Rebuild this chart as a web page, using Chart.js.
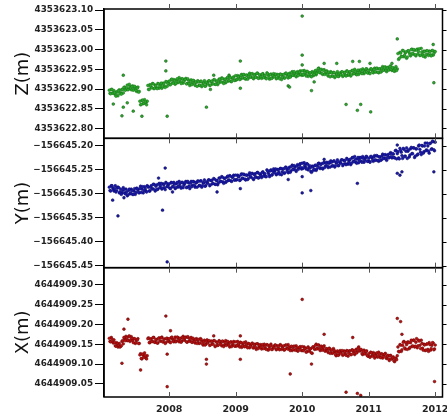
<!DOCTYPE html>
<html>
<head>
<meta charset="utf-8">
<script src="https://cdn.jsdelivr.net/npm/chart.js@4.4.1/dist/chart.umd.min.js"></script>
<style>
  body { margin: 0; background: #fff; }
  #wrap { width: 447px; height: 417px; }
</style>
</head>
<body>
<div id="wrap"><canvas id="gps" width="447" height="417"></canvas></div>
<script>
// solution epochs (decimal years), two interleaved sets
const epochs = [
  2007.10,2007.12,2007.14,2007.16,2007.18,2007.20,2007.22,2007.24,2007.26,2007.28,
  2007.30,2007.32,2007.34,2007.36,2007.38,2007.40,2007.42,2007.44,2007.46,2007.48,
  2007.50,2007.52,2007.54,2007.56,2007.58,2007.60,2007.62,2007.64,2007.66,2007.68,
  2007.70,2007.72,2007.74,2007.76,2007.78,2007.80,2007.82,2007.84,2007.86,2007.88,
  2007.90,2007.92,2007.94,2007.96,2007.98,
  2008.00,2008.02,2008.04,2008.06,2008.08,2008.10,2008.12,2008.14,2008.16,2008.18,
  2008.20,2008.22,2008.24,2008.26,2008.28,2008.30,2008.32,2008.34,2008.36,2008.38,
  2008.40,2008.42,2008.44,2008.46,2008.48,2008.50,2008.52,2008.54,2008.56,2008.58,
  2008.60,2008.62,2008.64,2008.66,2008.68,2008.70,2008.72,2008.74,2008.76,2008.78,
  2008.80,2008.82,2008.84,2008.86,2008.88,2008.90,2008.92,2008.94,2008.96,2008.98,
  2009.00,2009.02,2009.04,2009.06,2009.08,2009.10,2009.12,2009.14,2009.16,2009.18,
  2009.20,2009.22,2009.24,2009.26,2009.28,2009.30,2009.32,2009.34,2009.36,2009.38,
  2009.40,2009.42,2009.44,2009.46,2009.48,2009.50,2009.52,2009.54,2009.56,2009.58,
  2009.60,2009.62,2009.64,2009.66,2009.68,2009.70,2009.72,2009.74,2009.76,2009.78,
  2009.80,2009.82,2009.84,2009.86,2009.88,2009.90,2009.92,2009.94,2009.96,2009.98,
  2010.00,2010.02,2010.04,2010.06,2010.08,2010.10,2010.12,2010.14,2010.16,2010.18,
  2010.20,2010.22,2010.24,2010.26,2010.28,2010.30,2010.32,2010.34,2010.36,2010.38,
  2010.40,2010.42,2010.44,2010.46,2010.48,2010.50,2010.52,2010.54,2010.56,2010.58,
  2010.60,2010.62,2010.64,2010.66,2010.68,2010.70,2010.72,2010.74,2010.76,2010.78,
  2010.80,2010.82,2010.84,2010.86,2010.88,2010.90,2010.92,2010.94,2010.96,2010.98,
  2011.00,2011.02,2011.04,2011.06,2011.08,2011.10,2011.12,2011.14,2011.16,2011.18,
  2011.20,2011.22,2011.24,2011.26,2011.28,2011.30,2011.32,2011.34,2011.36,2011.38,
  2011.40,2011.42,2011.44,2011.46,2011.48,2011.50,2011.52,2011.54,2011.56,2011.58,
  2011.60,2011.62,2011.64,2011.66,2011.68,2011.70,2011.72,2011.74,2011.76,2011.78,
  2011.80,2011.82,2011.84,2011.86,2011.88,2011.90,2011.92,2011.94,2011.96,2011.98,
  2012.00
];
const epochs2 = [
  2007.11,2007.13,2007.15,2007.17,2007.19,2007.21,2007.23,2007.25,2007.27,2007.29,
  2007.31,2007.33,2007.35,2007.37,2007.39,2007.41,2007.43,2007.45,2007.47,2007.49,
  2007.51,2007.53,2007.55,2007.57,2007.59,2007.61,2007.63,2007.65,2007.67,2007.69,
  2007.71,2007.73,2007.75,2007.77,2007.79,2007.81,2007.83,2007.85,2007.87,2007.89,
  2007.91,2007.93,2007.95,2007.97,2007.99,
  2008.01,2008.03,2008.05,2008.07,2008.09,2008.11,2008.13,2008.15,2008.17,2008.19,
  2008.21,2008.23,2008.25,2008.27,2008.29,2008.31,2008.33,2008.35,2008.37,2008.39,
  2008.41,2008.43,2008.45,2008.47,2008.49,2008.51,2008.53,2008.55,2008.57,2008.59,
  2008.61,2008.63,2008.65,2008.67,2008.69,2008.71,2008.73,2008.75,2008.77,2008.79,
  2008.81,2008.83,2008.85,2008.87,2008.89,2008.91,2008.93,2008.95,2008.97,2008.99,
  2009.01,2009.03,2009.05,2009.07,2009.09,2009.11,2009.13,2009.15,2009.17,2009.19,
  2009.21,2009.23,2009.25,2009.27,2009.29,2009.31,2009.33,2009.35,2009.37,2009.39,
  2009.41,2009.43,2009.45,2009.47,2009.49,2009.51,2009.53,2009.55,2009.57,2009.59,
  2009.61,2009.63,2009.65,2009.67,2009.69,2009.71,2009.73,2009.75,2009.77,2009.79,
  2009.81,2009.83,2009.85,2009.87,2009.89,2009.91,2009.93,2009.95,2009.97,2009.99,
  2010.01,2010.03,2010.05,2010.07,2010.09,2010.11,2010.13,2010.15,2010.17,2010.19,
  2010.21,2010.23,2010.25,2010.27,2010.29,2010.31,2010.33,2010.35,2010.37,2010.39,
  2010.41,2010.43,2010.45,2010.47,2010.49,2010.51,2010.53,2010.55,2010.57,2010.59,
  2010.61,2010.63,2010.65,2010.67,2010.69,2010.71,2010.73,2010.75,2010.77,2010.79,
  2010.81,2010.83,2010.85,2010.87,2010.89,2010.91,2010.93,2010.95,2010.97,2010.99,
  2011.01,2011.03,2011.05,2011.07,2011.09,2011.11,2011.13,2011.15,2011.17,2011.19,
  2011.21,2011.23,2011.25,2011.27,2011.29,2011.31,2011.33,2011.35,2011.37,2011.39,
  2011.41,2011.43,2011.45,2011.47,2011.49,2011.51,2011.53,2011.55,2011.57,2011.59,
  2011.61,2011.63,2011.65,2011.67,2011.69,2011.71,2011.73,2011.75,2011.77,2011.79,
  2011.81,2011.83,2011.85,2011.87,2011.89,2011.91,2011.93,2011.95,2011.97,2011.99
];
const yearTicks = [2008, 2009, 2010, 2011, 2012];

// Z component, mm relative to zBase
const zBase = 4353622.90;
const zTicks = [4353622.80, 4353622.85, 4353622.90, 4353622.95, 4353623.00, 4353623.05, 4353623.10];
const zMm = [
  -3,-12,-1,-11,-9,-18,-7,-4,-11,-13, -1,4,-3,3,-2,12,3,6,-3,7, -3,2,-8,-31,-39,-28,-36,-33,-40,9,
  -1,8,3,13,2,8,1,13,7,15, 6,13,4,18,14,
  20,11,25,15,21,15,26,19,24,14, 26,20,24,13,26,14,19,11,22,13, 18,7,18,10,20,9,15,7,17,13,
  21,10,20,13,24,12,20,15,25,18, 27,14,25,19,29,22,29,19,28,22,
  34,25,31,24,35,29,37,27,35,25, 36,31,38,28,35,30,40,27,36,31, 38,29,34,26,39,29,36,27,34,31,
  38,28,35,26,37,30,37,28,40,31, 37,30,41,35,44,34,41,34,43,38,
  46,37,42,33,44,37,41,31,40,37, 47,40,52,43,48,39,47,37,44,37, 43,31,41,33,42,32,38,32,40,36,
  44,34,42,33,45,38,44,36,47,39, 44,36,48,42,48,39,47,43,51,41,
  47,39,51,43,50,44,53,43,51,43, 53,48,55,48,53,48,57,50,54,46, 52,47,90,78,91,82,97,86,94,81,
  97,87,100,91,100,87,99,89,102,86, 94,83,95,87,97,85,95,84,98,90,
  95
];
const zMm2 = [
  -11,-1,-10,-4,-14,-8,-17,-2,-9,-1, -10,5,-1,10,0,6,-2,8,1,5, -6,5,-6,-40,-29,-37,-27,-35,-31,-1,
  11,4,14,1,10,3,14,2,11,2, 15,7,19,7,18,
  11,24,16,24,12,23,16,29,18,26, 15,23,27,14,22,9,23,14,21,9, 17,21,9,19,6,15,21,8,15,20,
  9,19,13,23,12,20,11,25,18,28, 17,24,16,28,20,31,19,27,31,22,
  23,34,31,25,37,28,36,25,35,28, 40,30,39,26,37,30,40,28,35,27, 39,34,28,41,35,25,38,28,39,35,
  26,37,30,38,24,36,28,40,36,28, 40,33,44,35,40,31,44,37,46,35,
  35,47,38,45,32,41,33,44,34,44, 36,46,53,41,50,37,49,40,46,33, 41,44,33,42,29,38,44,32,38,43,
  32,42,36,46,35,42,33,47,39,50, 38,45,37,48,41,51,39,47,51,41,
  41,51,48,41,53,43,52,41,51,44, 57,48,56,44,55,49,59,47,53,45, 57,51,75,93,83,98,82,92,78,97,
  92,84,101,88,98,84,101,95,85,103, 88,96,81,97,88,96,87,97,86,95
];
const zOutT = [2010.00,2011.43,2007.95,2007.95,2009.07,2010.00,2010.00,2007.31,2007.16,2007.31,2007.29,2007.46,
  2007.59,2007.97,2008.56,2009.79,2009.81,2010.14,2010.18,2010.33,2010.52,2010.76,2010.86,2011.02,2010.66,
  2010.88,2010.83,2011.03,2011.98,2011.35,2011.97,2008.67,2008.90,2007.37,2009.07,2008.62];
const zOutMm = [185,127,71,46,71,86,61,35,-38,-46,-68,-56,
  -69,-69,-46,8,5,-4,18,65,65,70,70,65,-39,
  -39,-54,-58,16,65,113,35,35,-35,2,-1];

// Y component, mm relative to yBase
const yBase = -156645.30;
const yTicks = [-156645.45, -156645.40, -156645.35, -156645.30, -156645.25, -156645.20];
const yMm = [
  14,6,17,9,11,4,13,13,4,-1, 7,9,0,4,-2,10,2,7,-1,11, 3,11,3,11,3,15,7,11,4,15,
  6,14,10,20,9,16,9,20,13,22, 12,19,9,22,16,
  21,11,23,15,20,13,24,16,21,12, 24,18,23,13,26,16,22,15,26,18, 24,14,26,18,27,17,23,16,25,22,
  29,19,28,22,31,20,28,23,33,26, 35,22,33,26,37,29,37,26,36,29,
  39,30,36,28,40,33,41,31,39,30, 40,36,42,32,40,35,44,33,42,38, 45,37,42,36,48,40,48,39,47,44,
  52,42,50,41,53,46,52,44,55,47, 53,45,57,51,59,50,58,51,60,55,
  64,55,60,52,62,55,54,45,56,51, 60,52,63,55,61,54,64,55,64,59, 66,56,66,59,69,59,65,59,67,64,
  71,62,69,61,72,66,72,64,76,67, 72,64,76,70,75,66,74,70,78,68,
  74,66,78,70,77,71,80,70,77,70, 79,74,81,74,80,75,84,78,84,76, 90,73,88,73,91,80,95,78,89,74,
  92,81,97,84,96,79,94,83,102,87, 101,85,100,90,106,89,105,93,110,92,
  108
];
const yMm2 = [
  7,17,13,6,17,7,14,2,10,2, 13,2,10,-4,7,0,10,-1,6,-1, 12,8,2,16,10,2,15,6,17,14,
  6,17,11,20,6,19,10,22,17,10, 21,13,24,15,20,
  12,24,15,24,11,21,14,26,15,24, 13,21,26,14,23,11,26,18,25,14, 23,27,17,27,14,23,29,17,23,29,
  17,28,21,32,20,28,19,33,26,36, 25,32,24,35,28,38,27,34,39,29,
  29,39,36,29,42,32,40,29,39,32, 44,35,43,30,42,35,45,34,41,34, 46,42,36,50,44,36,50,40,52,48,
  40,51,45,53,40,52,43,56,51,44, 56,48,60,51,56,47,61,54,63,52,
  53,65,56,63,50,59,47,58,49,59, 49,58,64,53,63,52,66,58,66,55, 64,69,58,68,56,65,71,59,65,71,
  59,70,63,74,62,70,61,75,68,78, 66,73,65,76,68,78,66,74,78,68,
  68,78,75,68,80,70,79,68,77,71, 83,74,82,70,82,76,86,75,83,75, 91,84,75,95,87,74,93,79,96,89,
  77,94,84,96,76,94,81,100,93,82, 100,88,106,92,100,85,106,94,109,90
];
const yOutT = [2007.15,2007.23,2007.90,2007.94,2007.97,2009.07,2008.72,2008.05,2007.84,2007.32,2010.00,
  2010.13,2010.83,2010.00,2009.79,2011.43,2011.47,2011.50,2011.43,2011.98,2010.33];
const yOutMm = [-13,-46,-34,54,-142,11,4,4,33,-8,2,
  7,22,36,30,43,39,46,102,46,72];

// X component, mm relative to xBase
const xBase = 4644909.15;
const xTicks = [4644909.05, 4644909.10, 4644909.15, 4644909.20, 4644909.25, 4644909.30];
const xMm = [
  15,6,13,3,4,-5,1,-3,-7,-4, 9,17,9,16,10,21,11,15,4,14, 4,11,2,-27,-36,-25,-33,-29,-37,14,
  4,12,7,17,5,11,3,15,8,16, 6,13,2,15,9,
  14,4,18,8,13,6,18,10,15,5, 17,11,16,6,19,8,12,5,15,7, 12,2,12,3,12,1,6,-2,7,3,
  9,-2,7,0,9,-4,4,-2,7,0, 8,-6,4,-3,7,-2,5,-6,3,-4,
  6,-3,1,-7,4,-4,4,-6,0,-9, 1,-5,1,-9,-2,-8,1,-11,-3,-8, -1,-11,-6,-13,-2,-11,-4,-13,-6,-9,
  -2,-12,-5,-14,-3,-10,-4,-13,-2,-12, -7,-16,-5,-13,-5,-15,-9,-17,-8,-14,
  -6,-16,-11,-20,-9,-16,-12,-22,-7,-11, -3,-12,-2,-12,-7,-15,-7,-17,-11,-17, -11,-23,-14,-22,-15,-26,-21,-28,-20,-23,
  -16,-26,-19,-28,-17,-23,-17,-26,-15,-23, -16,-22,-10,-16,-13,-24,-18,-24,-18,-29,
  -24,-33,-22,-30,-24,-30,-22,-32,-26,-34, -25,-31,-25,-34,-30,-37,-29,-37,-34,-42, -36,-39,-7,-19,-2,-14,5,-9,4,-13,
  4,-8,10,-4,10,-5,14,-4,8,-11, 2,-15,-2,-15,1,-18,-1,-11,4,-14,
  -2
];
const xMm2 = [
  7,17,6,11,-4,4,-7,2,-5,7, 1,14,20,9,19,7,19,9,14,2, 10,14,2,-24,-37,-28,-22,-35,-29,16,
  4,14,7,17,5,12,3,16,8,18, 6,13,4,15,7,
  6,16,13,6,18,8,17,6,15,8, 20,10,18,5,16,8,17,5,11,3, 14,9,2,14,8,-2,10,0,11,7,
  -3,8,1,9,-6,6,-3,9,4,-4, 7,-2,9,-1,4,-7,6,-2,7,-5,
  -5,7,-3,5,-8,1,-6,6,-6,2, -9,-2,3,-9,0,-13,1,-7,-1,-12, -3,0,-11,-1,-15,-6,0,-13,-7,-2,
  -14,-4,-11,-1,-13,-6,-15,-2,-10,-1, -13,-7,-16,-6,-14,-4,-17,-10,-6,-16,
  -16,-7,-11,-19,-7,-18,-11,-23,-7,-13, 0,-10,-2,-16,-5,-12,-4,-17,-12,-21, -10,-16,-23,-11,-19,-29,-17,-27,-16,-19,
  -28,-17,-24,-16,-30,-17,-26,-14,-19,-26, -13,-19,-7,-17,-14,-26,-15,-24,-17,-30,
  -31,-20,-29,-21,-35,-25,-32,-20,-32,-24, -35,-27,-23,-36,-28,-41,-28,-37,-32,-44, -35,-29,-18,-1,-18,-3,7,-12,-1,6,
  -11,4,-6,10,-7,5,-9,10,-3,10, -10,0,-16,0,-13,4,-15,-3,3,-12
];
const xOutT = [2007.38,2007.32,2007.29,2007.57,2007.95,2008.02,2007.97,2007.97,2008.56,2008.56,2009.07,2009.07,
  2008.67,2010.00,2010.33,2010.76,2011.43,2011.48,2009.82,2010.14,2010.66,2010.83,2010.88,2011.99,2011.50];
const xOutMm = [63,38,-48,-65,71,34,-25,-107,-38,-50,-38,21,
  21,113,25,17,65,57,-75,-50,-121,-124,-129,-94,25];

function toPoints(times, mm, base) {
  return times.map((t, i) => ({ x: t, y: base + mm[i] / 1000 }));
}

function fmt(v) {
  const s = Math.abs(v).toFixed(2);
  return v < 0 ? '\u2212' + s : s;
}

const tickFont = { family: 'DejaVu Sans', size: 8.8, weight: 'bold' };
const titleFont = { family: 'DejaVu Sans', size: 18 };

function panelAxis(title, ticks, min, max) {
  return {
    type: 'linear',
    position: 'left',
    stack: 'panels',
    stackWeight: 1,
    min: min,
    max: max,
    afterBuildTicks: s => { s.ticks = ticks.map(v => ({ value: v })); },
    afterFit: s => { s.width = 104; s.paddingTop = 0; s.paddingBottom = 0; },
    grid: { drawOnChartArea: false, tickLength: 9, tickColor: '#000', tickWidth: 1 },
    border: { display: true, color: '#000', width: 1.5 },
    ticks: { font: tickFont, color: '#222', padding: 2, autoSkip: false, callback: v => fmt(v) },
    title: { display: true, text: title, font: titleFont, color: '#111', padding: { top: 13, bottom: 0 } }
  };
}

const panelAxes = ['yZ', 'yY', 'yX'];

const panelFrame = {
  id: 'panelFrame',
  afterDraw(chart) {
    const { ctx, chartArea } = chart;
    const xs = chart.scales.x;
    ctx.save();
    panelAxes.forEach((id, k) => {
      const s = chart.scales[id];
      ctx.strokeStyle = '#000';
      ctx.lineWidth = 1.5;
      ctx.strokeRect(chartArea.left, s.top, chartArea.right - chartArea.left, s.bottom - s.top);
      ctx.lineWidth = 1;
      s.ticks.forEach(t => {
        const py = Math.round(s.getPixelForValue(t.value)) + 0.5;
        ctx.beginPath();
        ctx.moveTo(chartArea.right, py);
        ctx.lineTo(chartArea.right + 4, py);
        ctx.stroke();
      });
      ctx.strokeStyle = '#555';
      yearTicks.forEach(yr => {
        const px = Math.round(xs.getPixelForValue(yr)) + 0.5;
        ctx.beginPath();
        if (k === 0) {
          ctx.moveTo(px, s.top - 5);
          ctx.lineTo(px, s.top);
        } else {
          ctx.moveTo(px, s.top);
          ctx.lineTo(px, s.top + 5);
        }
        ctx.moveTo(px, s.bottom - 5);
        ctx.lineTo(px, s.bottom);
        ctx.stroke();
      });
    });
    ctx.restore();
  }
};

function series(times, mm, base, axis, fill, edge) {
  return {
    data: toPoints(times, mm, base),
    yAxisID: axis,
    showLine: false,
    pointRadius: 1.4,
    pointBorderWidth: 0.5,
    backgroundColor: fill,
    borderColor: edge
  };
}

new Chart(document.getElementById('gps'), {
  type: 'scatter',
  data: {
    datasets: [
      series(epochs, zMm, zBase, 'yZ', '#2aaa2a', '#1a701a'),
      series(epochs2, zMm2, zBase, 'yZ', '#2aaa2a', '#1a701a'),
      series(zOutT, zOutMm, zBase, 'yZ', '#2aaa2a', '#1a501a'),
      series(epochs, yMm, yBase, 'yY', '#1a1aa8', '#0c0c70'),
      series(epochs2, yMm2, yBase, 'yY', '#1a1aa8', '#0c0c70'),
      series(yOutT, yOutMm, yBase, 'yY', '#1a1aa8', '#0c0c50'),
      series(epochs, xMm, xBase, 'yX', '#b81010', '#700808'),
      series(epochs2, xMm2, xBase, 'yX', '#b81010', '#700808'),
      series(xOutT, xOutMm, xBase, 'yX', '#b81010', '#500808')
    ]
  },
  options: {
    responsive: false,
    animation: false,
    layout: { padding: { top: 9, right: 4, left: 0, bottom: 0 } },
    plugins: { legend: { display: false }, tooltip: { enabled: false } },
    scales: {
      x: {
        type: 'linear',
        position: 'bottom',
        min: 2007.02,
        max: 2012.11,
        afterBuildTicks: s => { s.ticks = yearTicks.map(v => ({ value: v })); },
        afterFit: s => { s.height = 20; s.paddingLeft = 0; s.paddingRight = 0; },
        grid: { display: false, drawTicks: false },
        border: { display: false },
        ticks: { font: { family: 'DejaVu Sans', size: 9.5, weight: 'bold' }, color: '#222', padding: 7, maxRotation: 0, autoSkip: false, callback: v => String(v) }
      },
      // stacked left axes are placed bottom-up in reverse definition order
      yX: panelAxis('X(m)', xTicks, 4644909.017, 4644909.343),
      yY: panelAxis('Y(m)', yTicks, -156645.454, -156645.184),
      yZ: panelAxis('Z(m)', zTicks, 4353622.775, 4353623.103)
    }
  },
  plugins: [panelFrame]
});
</script>
</body>
</html>
